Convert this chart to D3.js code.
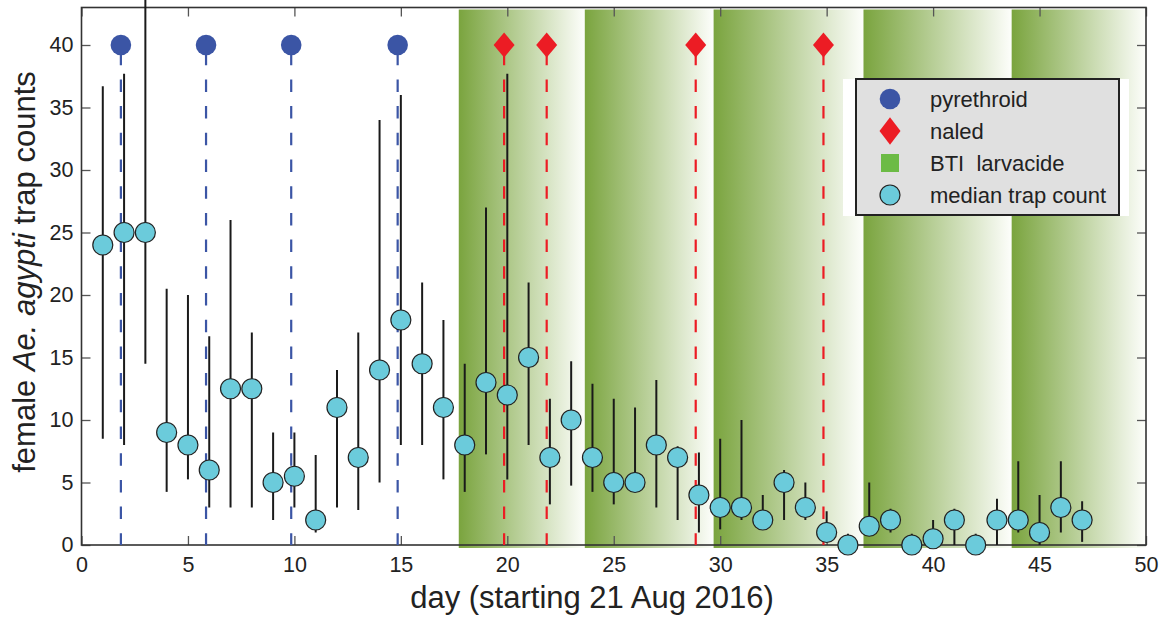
<!DOCTYPE html>
<html>
<head>
<meta charset="utf-8">
<script src="https://cdn.jsdelivr.net/npm/d3@7"></script>
<style>
  body { margin: 0; background: #fff; }
  svg { display: block; font-family: "Liberation Sans", Arial, sans-serif; }
</style>
</head>
<body>
<script>
// trap counts per day: median plus lower / upper range
const days    = [1,2,3,4,5,6,7,8,9,10,11,12,13,14,15,16,17,18,19,20,21,22,23,24,25,26,27,28,29,30,31,32,33,34,35,36,37,38,39,40,41,42,43,44,45,46,47];
const medians = [24,25,25,9,8,6,12.5,12.5,5,5.5,2,11,7,14,18,14.5,11,8,13,12,15,7,10,7,5,5,8,7,4,3,3,2,5,3,1,0,1.5,2,0,0.5,2,0,2,2,1,3,2];
const lows    = [8.5,8,14.5,4.25,5.25,3,3,3,2,3,1,3,2.8,5,8,8,5.25,4.25,7.25,5.25,8,3.25,4.75,4.25,3.25,5,3,2,1,1.25,2,2,2,2,1,0,1.5,1,0,0,0,0,0,1,0,1,0.25];
const highs   = [36.7,37.7,46,20.5,20,16.7,26,17,9,9,7.2,14,17,34,36,21,18,14.5,27,37.7,21,11.7,14.7,12.9,11.7,11,13.2,7.9,7.4,8.5,10,4,6,5,2.7,0.9,5,2.9,0.9,2,2.9,0.9,3.7,6.7,4,6.7,3.5];

// spraying events
const pyrethroidDays = [1.85, 5.85, 9.85, 14.85];
const naledDays      = [19.85, 21.85, 28.85, 34.85];
const markerLevel    = 40;

// BTI larvacide periods
const btiStarts = [17.72, 23.64, 29.69, 36.73, 43.69];
const btiEnds   = [23.64, 29.69, 36.73, 43.69, 50];

const xTicks = [0,5,10,15,20,25,30,35,40,45,50];
const yTicks = [0,5,10,15,20,25,30,35,40];
const legendLabels = ['pyrethroid', 'naled', 'BTI  larvacide', 'median trap count'];

const W = 1164, H = 617;
const x = d3.scaleLinear().domain([0, 50]).range([81.5, 1146]);
const y = d3.scaleLinear().domain([0, 43]).range([545, 7.5]);

const svg = d3.select('body').append('svg')
    .attr('width', W)
    .attr('height', H);

const defs = svg.append('defs');
const grad = defs.append('linearGradient')
    .attr('id', 'btiGrad')
    .attr('x1', '0%').attr('x2', '100%')
    .attr('y1', '0%').attr('y2', '0%');
grad.append('stop').attr('offset', '0%').attr('stop-color', 'rgb(122,164,62)');
grad.append('stop').attr('offset', '100%').attr('stop-color', 'rgb(253,254,251)');

// BTI bands
svg.append('g').attr('class', 'bands')
  .selectAll('rect')
  .data(btiStarts)
  .enter().append('rect')
    .attr('x', d => x(d))
    .attr('width', (d, i) => x(btiEnds[i]) - x(d))
    .attr('y', y.range()[1] + 2)
    .attr('height', y(0) + 3 - y.range()[1] - 2)
    .attr('fill', 'url(#btiGrad)');

// axes box with inward ticks
function drawAxes() {
    const gx = svg.append('g')
        .attr('transform', 'translate(0,' + y(0) + ')')
        .call(d3.axisBottom(x).tickValues(xTicks).tickSize(-9).tickSizeOuter(0).tickPadding(12));
    const gxt = svg.append('g')
        .attr('transform', 'translate(0,' + y.range()[1] + ')')
        .call(d3.axisTop(x).tickValues(xTicks).tickSize(-9).tickSizeOuter(0).tickFormat(''));
    const gy = svg.append('g')
        .attr('transform', 'translate(' + x(0) + ',0)')
        .call(d3.axisLeft(y).tickValues(yTicks).tickSize(-9).tickSizeOuter(0).tickPadding(8));
    const gyr = svg.append('g')
        .attr('transform', 'translate(' + x(50) + ',0)')
        .call(d3.axisRight(y).tickValues(yTicks).tickSize(-9).tickSizeOuter(0).tickFormat(''));

    [gx, gxt, gy, gyr].forEach(g => {
        g.select('.domain').remove();
        g.selectAll('line').attr('stroke', '#555').attr('stroke-width', 1.3);
        g.selectAll('text')
            .attr('fill', '#222')
            .style('font-size', '21.5px')
            .style('font-family', '"Liberation Sans", Arial, sans-serif');
    });

    svg.append('rect')
        .attr('x', x(0))
        .attr('y', y.range()[1])
        .attr('width', x(50) - x(0))
        .attr('height', y(0) - y.range()[1])
        .attr('fill', 'none')
        .attr('stroke', '#333')
        .attr('stroke-width', 1.6);
}
drawAxes();

// dashed event lines
function eventLines(data, color) {
    svg.append('g')
      .selectAll('line')
      .data(data)
      .enter().append('line')
        .attr('x1', d => x(d)).attr('x2', d => x(d))
        .attr('y1', y(markerLevel)).attr('y2', y(0))
        .attr('stroke', color)
        .attr('stroke-width', 2.2)
        .attr('stroke-dasharray', '12.5,14.2')
        .attr('stroke-dashoffset', 19);
}
eventLines(pyrethroidDays, '#3b55a5');
eventLines(naledDays, '#ec1c24');

svg.append('g')
  .selectAll('circle')
  .data(pyrethroidDays)
  .enter().append('circle')
    .attr('cx', d => x(d))
    .attr('cy', y(markerLevel))
    .attr('r', 10.3)
    .attr('fill', '#3b55a5');

const diamond = 'M0,-12.5 L10.5,0 L0,12.5 L-10.5,0 Z';
svg.append('g')
  .selectAll('path')
  .data(naledDays)
  .enter().append('path')
    .attr('transform', d => 'translate(' + x(d) + ',' + y(markerLevel) + ')')
    .attr('d', diamond)
    .attr('fill', '#ec1c24');

// range bars
svg.append('g')
  .selectAll('line')
  .data(days)
  .enter().append('line')
    .attr('x1', d => x(d)).attr('x2', d => x(d))
    .attr('y1', (d, i) => y(lows[i]))
    .attr('y2', (d, i) => Math.max(0, y(highs[i])))
    .attr('stroke', '#1a1a1a')
    .attr('stroke-width', 2);

// medians
svg.append('g')
  .selectAll('circle')
  .data(days)
  .enter().append('circle')
    .attr('cx', d => x(d))
    .attr('cy', (d, i) => y(medians[i]))
    .attr('r', 10)
    .attr('fill', '#6bcbdb')
    .attr('stroke', '#222')
    .attr('stroke-width', 1.2);

// legend
function drawLegend() {
    const lg = svg.append('g').attr('class', 'legend');
    lg.append('rect')
        .attr('x', 843).attr('y', 79)
        .attr('width', 286).attr('height', 137)
        .attr('fill', '#fff');
    lg.append('rect')
        .attr('x', 856).attr('y', 79)
        .attr('width', 263).attr('height', 136)
        .attr('fill', '#e0e0e0')
        .attr('stroke', '#222')
        .attr('stroke-width', 2);

    const rowY = i => 99 + i * 32;
    const symX = 890;

    lg.append('circle').attr('cx', symX).attr('cy', rowY(0)).attr('r', 10.3).attr('fill', '#3b55a5');
    lg.append('path')
        .attr('transform', 'translate(' + symX + ',' + rowY(1) + ') scale(1,1.1)')
        .attr('d', diamond).attr('fill', '#ec1c24');
    lg.append('rect')
        .attr('x', symX - 9).attr('y', rowY(2) - 9)
        .attr('width', 18).attr('height', 18)
        .attr('fill', '#6cbb45');
    lg.append('circle').attr('cx', symX).attr('cy', rowY(3)).attr('r', 10)
        .attr('fill', '#6bcbdb').attr('stroke', '#222').attr('stroke-width', 1.2);

    lg.selectAll('text')
      .data(legendLabels)
      .enter().append('text')
        .attr('x', 930)
        .attr('y', (d, i) => rowY(i))
        .attr('dy', '0.35em')
        .style('font-size', '22px')
        .style('white-space', 'pre')
        .attr('fill', '#222')
        .text(d => d);
}
drawLegend();

// axis titles
svg.append('text')
    .attr('x', 592)
    .attr('y', 608)
    .attr('text-anchor', 'middle')
    .style('font-size', '31px')
    .attr('fill', '#222')
    .text('day (starting 21 Aug 2016)');

const yl = svg.append('text')
    .attr('transform', 'translate(35,272) rotate(-90)')
    .attr('text-anchor', 'middle')
    .style('font-size', '31px')
    .attr('fill', '#222');
yl.append('tspan').text('female ');
yl.append('tspan').style('font-style', 'italic').text('Ae. agypti');
yl.append('tspan').text(' trap counts');
</script>
</body>
</html>
